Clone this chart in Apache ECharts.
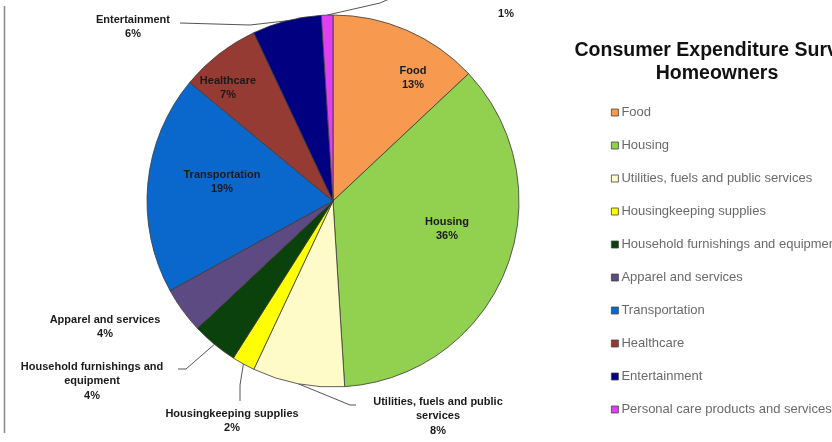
<!DOCTYPE html>
<html>
<head>
<meta charset="utf-8">
<script src="https://cdn.jsdelivr.net/npm/echarts@6/dist/echarts.min.js"></script>
<style>
  html, body { margin: 0; padding: 0; background: #fff; }
  #chart { width: 832px; height: 442px; }
</style>
</head>
<body>
<div id="chart"></div>
<script>
// Spending categories, clockwise from 12 o'clock
const categories = [
  'Food',
  'Housing',
  'Utilities, fuels and public services',
  'Housingkeeping supplies',
  'Household furnishings and equipment',
  'Apparel and services',
  'Transportation',
  'Healthcare',
  'Entertainment',
  'Personal care products and services'
];

// Share of spending (%)
const shares = [13, 36, 8, 2, 4, 4, 19, 7, 6, 1];

// Slice label text with manual line breaks
const sliceLabels = [
  'Food',
  'Housing',
  'Utilities, fuels and public\nservices',
  'Housingkeeping supplies',
  'Household furnishings and\nequipment',
  'Apparel and services',
  'Transportation',
  'Healthcare',
  'Entertainment',
  'Personal care products and services'
];

const sliceColors = [
  '#F79A4F', '#92D050', '#FFFBC8', '#FFFF00', '#0B410B',
  '#5E4A82', '#0A68CC', '#963A34', '#000080', '#E040F0'
];

// Which labels sit outside the pie (with a leader line)
const outsideLabel = [false, false, true, true, true, true, false, false, true, true];
const showLeader   = [false, false, true, true, true, false, false, false, true, true];

// Label anchor positions (centre of each label block)
const labelPos = [
  [413, 78], [447, 229], [438, 416], [232, 421], [92, 381],
  [105, 327], [222, 182], [228, 88], [133, 27], [506, -1]
];

// Bend and end points of leader lines (start point comes from the pie layout)
const leaderTail = {
  2: [[350, 405], [356, 405]],
  3: [[240, 385], [240, 401]],
  4: [[186, 369], [178, 369]],
  8: [[250, 25], [180, 23]],
  9: [[380, 3], [396, -4]]
};

const chart = echarts.init(document.getElementById('chart'), null, { renderer: 'canvas' });

const pieData = categories.map((name, i) => ({
  name: name,
  value: shares[i],
  itemStyle: { color: sliceColors[i] },
  label: { position: outsideLabel[i] ? 'outside' : 'inside' },
  labelLine: { show: showLeader[i] }
}));

const font = '"Liberation Sans", Arial, sans-serif';

chart.setOption({
  animation: false,
  backgroundColor: '#ffffff',
  title: {
    text: 'Consumer Expenditure Survey\nHomeowners',
    left: 717,
    top: 39,
    padding: 0,
    textAlign: 'center',
    textStyle: {
      fontFamily: font,
      fontWeight: 'bold',
      fontSize: 19.5,
      lineHeight: 23,
      color: '#111'
    }
  },
  legend: {
    orient: 'vertical',
    left: 611,
    top: 106,
    padding: 0,
    itemWidth: 7,
    itemHeight: 7,
    itemGap: 20,
    icon: 'rect',
    selectedMode: false,
    itemStyle: { borderColor: '#444', borderWidth: 0.8 },
    textStyle: {
      fontFamily: font,
      fontSize: 13,
      lineHeight: 12,
      height: 12,
      color: '#6a6a6a',
      padding: [0, 0, 0, -2]
    },
    data: categories
  },
  graphic: [{
    type: 'line',
    shape: { x1: 4.5, y1: 6, x2: 4.5, y2: 433 },
    style: { stroke: '#8d8d8d', lineWidth: 1.6 },
    silent: true
  }],
  series: [{
    type: 'pie',
    center: [333, 201],
    radius: 186,
    startAngle: 90,
    clockwise: true,
    avoidLabelOverlap: false,
    emphasis: { disabled: true },
    itemStyle: { borderColor: '#3a3a3a', borderWidth: 0.8 },
    label: {
      formatter: p => p.dataIndex === 9
        ? '{far|' + sliceLabels[p.dataIndex] + '}\n' + p.value + '%'
        : sliceLabels[p.dataIndex] + '\n' + p.value + '%',
      fontFamily: font,
      fontWeight: 'bold',
      fontSize: 11,
      lineHeight: 14.5,
      color: '#1a1a1a',
      align: 'center',
      rich: {
        far: {
          fontFamily: font,
          fontWeight: 'bold',
          fontSize: 11,
          lineHeight: 30,
          color: '#1a1a1a'
        }
      }
    },
    labelLine: {
      length: 10,
      length2: 10,
      lineStyle: { color: '#555', width: 1 }
    },
    labelLayout: function (params) {
      const i = params.dataIndex;
      const out = {
        x: labelPos[i][0],
        y: labelPos[i][1],
        align: 'center',
        verticalAlign: 'middle'
      };
      if (leaderTail[i] && params.labelLinePoints) {
        out.labelLinePoints = [params.labelLinePoints[0]].concat(leaderTail[i]);
      }
      return out;
    },
    data: pieData
  }]
});
</script>
</body>
</html>
